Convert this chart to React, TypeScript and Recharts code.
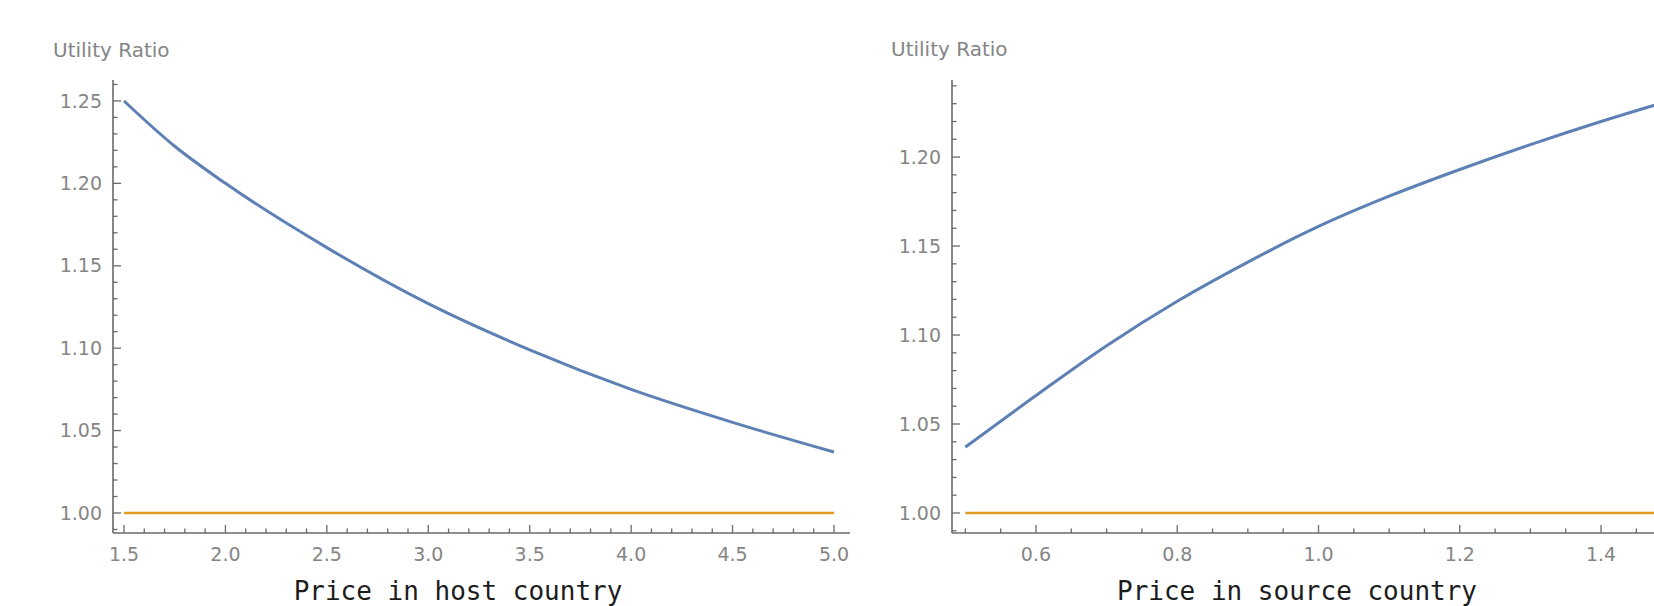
import React from 'react';
import { LineChart, Line, XAxis, YAxis } from 'recharts';

// left panel: price in host country
const hostPrice = [1.5, 1.75, 2.0, 2.5, 3.0, 3.5, 4.0, 4.5, 5.0];
const hostRatio = [1.25, 1.2225, 1.2, 1.161, 1.127, 1.099, 1.075, 1.055, 1.037];
const hostBaseline = [1.5, 5.0];
const hostXLabels = [1.5, 2.0, 2.5, 3.0, 3.5, 4.0, 4.5, 5.0];
const hostYLabels = [1.0, 1.05, 1.1, 1.15, 1.2, 1.25];

// right panel: price in source country
const sourcePrice = [0.5, 0.6, 0.7, 0.8, 0.9, 1.0, 1.1, 1.2, 1.3, 1.4, 1.5];
const sourceRatio = [1.037, 1.066, 1.094, 1.119, 1.141, 1.161, 1.178, 1.193, 1.207, 1.22, 1.232];
const sourceBaseline = [0.5, 1.5];
const sourceXLabels = [0.6, 0.8, 1.0, 1.2, 1.4];
const sourceYLabels = [1.0, 1.05, 1.1, 1.15, 1.2];

const BLUE = '#5E81B5';
const ORANGE = '#E19C24';
const AXIS = '#6a6a6a';
const LABEL = '#858585';

const steps = (from: number, to: number, step: number) =>
  Array.from({ length: Math.round((to - from) / step) + 1 }, (_, i) => +(from + i * step).toFixed(3));

const isMajor = (v: number, majors: number[]) => majors.some((m) => Math.abs(m - v) < 1e-6);

const XTick = ({ x, y, payload, majors, digits }: any) => {
  const major = isMajor(payload.value, majors);
  return (
    <g>
      <line x1={x} x2={x} y1={y} y2={y - (major ? 8 : 4.5)} stroke={AXIS} strokeWidth={1.3} />
      {major && (
        <text x={x} y={y + 28} textAnchor="middle" fill={LABEL} fontSize={19} fontFamily="DejaVu Sans">
          {payload.value.toFixed(digits)}
        </text>
      )}
    </g>
  );
};

const YTick = ({ x, y, payload, majors }: any) => {
  const major = isMajor(payload.value, majors);
  return (
    <g>
      <line x1={x} x2={x + (major ? 8 : 4.5)} y1={y} y2={y} stroke={AXIS} strokeWidth={1.3} />
      {major && (
        <text x={x - 11} y={y} dy="0.35em" textAnchor="end" fill={LABEL} fontSize={19} fontFamily="DejaVu Sans">
          {payload.value.toFixed(2)}
        </text>
      )}
    </g>
  );
};

interface PanelProps {
  left: number;
  width: number;
  marginLeft: number;
  marginRight: number;
  price: number[];
  ratio: number[];
  baseline: number[];
  xDomain: [number, number];
  yDomain: [number, number];
  xTicks: number[];
  yTicks: number[];
  xLabels: number[];
  yLabels: number[];
}

const RatioPanel: React.FC<PanelProps> = (p) => {
  const data = p.price.map((x, i) => ({ x, ratio: p.ratio[i] }));
  const base = p.baseline.map((x) => ({ x, ratio: 1 }));
  // axes get 1px of room each: recharts skips an axis whose box is 0 wide/high
  return (
    <div style={{ position: 'absolute', left: p.left, top: 0 }}>
      <LineChart
        width={p.width}
        height={606}
        data={data}
        margin={{ top: 80, left: p.marginLeft - 1, right: p.marginRight, bottom: 72 }}
      >
        <XAxis
          type="number"
          dataKey="x"
          domain={p.xDomain}
          allowDataOverflow
          ticks={p.xTicks}
          interval={0}
          height={1}
          tickSize={0}
          tickMargin={0}
          axisLine={{ stroke: AXIS, strokeWidth: 1.6 }}
          tick={(t: any) => <XTick {...t} majors={p.xLabels} digits={1} />}
        />
        <YAxis
          type="number"
          domain={p.yDomain}
          allowDataOverflow
          ticks={p.yTicks}
          interval={0}
          width={1}
          tickSize={0}
          tickMargin={0}
          axisLine={{ stroke: AXIS, strokeWidth: 1.6 }}
          tick={(t: any) => <YTick {...t} majors={p.yLabels} />}
        />
        <Line data={base} dataKey="ratio" type="linear" stroke={ORANGE} strokeWidth={2.6} dot={false} isAnimationActive={false} />
        <Line dataKey="ratio" type="monotone" stroke={BLUE} strokeWidth={3} dot={false} isAnimationActive={false} />
      </LineChart>
    </div>
  );
};

export default function App() {
  return (
    <div style={{ position: 'absolute', left: 0, top: 0, width: 1654, height: 606, overflow: 'hidden', background: '#fff' }}>
      <RatioPanel
        left={0}
        width={870}
        marginLeft={113}
        marginRight={20}
        price={hostPrice}
        ratio={hostRatio}
        baseline={hostBaseline}
        xDomain={[1.4458, 5.0789]}
        yDomain={[0.98786, 1.2627]}
        xTicks={steps(1.5, 5.0, 0.1)}
        yTicks={steps(0.99, 1.26, 0.01)}
        xLabels={hostXLabels}
        yLabels={hostYLabels}
      />
      <RatioPanel
        left={860}
        width={794}
        marginLeft={92}
        marginRight={0}
        price={sourcePrice}
        ratio={sourceRatio}
        baseline={sourceBaseline}
        xDomain={[0.4811, 1.475]}
        yDomain={[0.98876, 1.2433]}
        xTicks={steps(0.5, 1.45, 0.05)}
        yTicks={steps(0.99, 1.24, 0.01)}
        xLabels={sourceXLabels}
        yLabels={sourceYLabels}
      />
      <svg width={1654} height={606} style={{ position: 'absolute', left: 0, top: 0, pointerEvents: 'none' }}>
        <text x={53} y={57} fill={LABEL} fontSize={20} fontFamily="DejaVu Sans">Utility Ratio</text>
        <text x={891} y={56} fill={LABEL} fontSize={20} fontFamily="DejaVu Sans">Utility Ratio</text>
        <text x={458} y={600} textAnchor="middle" fill="#1c1c1c" fontSize={26} fontFamily="DejaVu Sans Mono">
          Price in host country
        </text>
        <text x={1297} y={600} textAnchor="middle" fill="#1c1c1c" fontSize={26} fontFamily="DejaVu Sans Mono">
          Price in source country
        </text>
      </svg>
    </div>
  );
}
